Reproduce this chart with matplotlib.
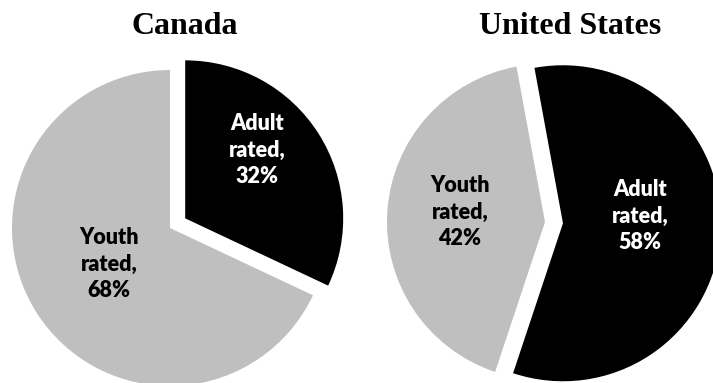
import matplotlib
matplotlib.use("Agg")
import matplotlib.pyplot as plt

# shares of games by rating, per country
regions = ["Canada", "United States"]
categories = ["Adult rated", "Youth rated"]
canada_shares = [32, 68]
us_shares = [58, 42]

colors = ["#000000", "#BFBFBF"]
label_colors = ["white", "black"]

fig = plt.figure(figsize=(7.13, 3.83), dpi=100)
ax = fig.add_axes([0, 0, 1, 1])

# pie layout in pixel units (y up)
layouts = [
    dict(center=(170, 155), start=90, title_x=185,
         label_pos=[(257, 233), (109, 119)]),
    dict(center=(545, 161), start=100.4, title_x=570,
         label_pos=[(640, 167), (460, 171)]),
]

for region, shares, lay in zip(regions, [canada_shares, us_shares], layouts):
    # explode is an absolute offset here, same units as the radius
    ax.pie(shares, colors=colors, startangle=lay["start"], counterclock=False,
           explode=[18, 0], radius=158, center=lay["center"],
           wedgeprops=dict(linewidth=0))
    for cat, val, pos, tc in zip(categories, shares, lay["label_pos"], label_colors):
        word, rated = cat.split()
        ax.text(pos[0], pos[1], f"{word}\n{rated},\n{val}%", ha="center", va="center",
                color=tc, fontsize=15.5, fontweight="heavy", linespacing=1.3,
                family=["Lato", "DejaVu Sans"])
    ax.text(lay["title_x"], 349, region, ha="center", va="baseline", fontsize=23,
            fontweight="bold", family=["Liberation Serif", "DejaVu Serif"])

ax.set_xlim(0, 713)
ax.set_ylim(0, 383)
ax.set_aspect("equal")
ax.axis("off")

fig.savefig("out.png", dpi=100)
